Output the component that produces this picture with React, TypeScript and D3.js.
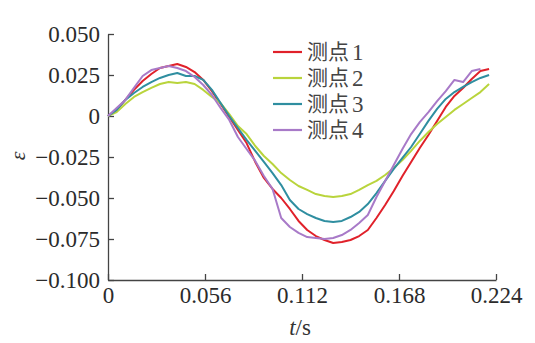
import React, { useEffect, useRef } from 'react'
import * as d3 from 'd3'

// time axis (s), one sample every 0.005 s
const time = d3.range(45).map(i => +(i * 0.005).toFixed(3))

const point1 = [0, 0.0037, 0.0098, 0.0159, 0.0213, 0.0256, 0.0293, 0.0305, 0.0317, 0.0299, 0.0268, 0.0220, 0.0152, 0.0073, -0.0006,
  -0.0085, -0.0165, -0.0280, -0.0378, -0.0445, -0.0500, -0.0567, -0.0640, -0.0695, -0.0732, -0.0756, -0.0774, -0.0768, -0.0756,
  -0.0732, -0.0695, -0.0622, -0.0543, -0.0457, -0.0366, -0.0280, -0.0195, -0.0116, -0.0030, 0.0055, 0.0122, 0.0171, 0.0226, 0.0274, 0.0287]
const point2 = [0, 0.0024, 0.0073, 0.0116, 0.0146, 0.0171, 0.0195, 0.0207, 0.0201, 0.0207, 0.0195, 0.0159, 0.0116, 0.0079, 0.0012,
  -0.0061, -0.0110, -0.0183, -0.0244, -0.0293, -0.0348, -0.0390, -0.0427, -0.0451, -0.0476, -0.0488, -0.0494, -0.0488, -0.0476,
  -0.0451, -0.0421, -0.0396, -0.0360, -0.0317, -0.0268, -0.0213, -0.0152, -0.0098, -0.0049, -0.0006, 0.0037, 0.0073, 0.0110, 0.0146, 0.0195]
const point3 = [0, 0.0037, 0.0098, 0.0140, 0.0177, 0.0207, 0.0232, 0.0250, 0.0262, 0.0244, 0.0244, 0.0220, 0.0159, 0.0079, 0,
  -0.0073, -0.0146, -0.0213, -0.0280, -0.0348, -0.0421, -0.0512, -0.0567, -0.0598, -0.0622, -0.0640, -0.0646, -0.0640, -0.0616,
  -0.0585, -0.0537, -0.0470, -0.0396, -0.0323, -0.0256, -0.0189, -0.0110, -0.0030, 0.0043, 0.0104, 0.0146, 0.0177, 0.0207, 0.0232, 0.0250]
const point4 = [0, 0.0049, 0.0098, 0.0171, 0.0244, 0.0280, 0.0293, 0.0305, 0.0293, 0.0274, 0.0238, 0.0189, 0.0128, 0.0049, -0.0024,
  -0.0128, -0.0201, -0.0274, -0.0366, -0.0445, -0.0622, -0.0677, -0.0713, -0.0738, -0.0744, -0.0750, -0.0744, -0.0726, -0.0695,
  -0.0652, -0.0604, -0.0494, -0.0396, -0.0299, -0.0201, -0.0110, -0.0037, 0.0024, 0.0091, 0.0152, 0.0220, 0.0207, 0.0274, 0.0287]

const seriesNames = ['测点', '测点', '测点', '测点']
const seriesNums = ['1', '2', '3', '4']
const seriesValues = [point1, point2, point3, point4]
const colors = ['#e0212a', '#b9d43c', '#2f8ea0', '#a87ac8']

const xTicks = [0, 0.056, 0.112, 0.168, 0.224]
const yTicks = [0.05, 0.025, 0, -0.025, -0.05, -0.075, -0.1]

const serif = 'Liberation Serif, Times New Roman, DejaVu Serif, serif'

export default function App() {
  const ref = useRef<SVGSVGElement>(null)

  useEffect(() => {
    const svg = d3.select(ref.current)
    svg.selectAll('*').remove()

    const x = d3.scaleLinear().domain([0, 0.224]).range([108, 496])
    const y = d3.scaleLinear().domain([-0.1, 0.05]).range([280, 34])
    const fmt = d3.format('.3f')
    const axisColor = '#444'

    // y axis, ticks pointing into the plot
    const gy = svg.append('g')
      .attr('transform', 'translate(108,0)')
      .call(d3.axisLeft(y).tickValues(yTicks).tickSizeInner(-6).tickSizeOuter(0).tickPadding(8)
        .tickFormat(d => (+d === 0 ? '0' : fmt(+d))))
    // x axis
    const gx = svg.append('g')
      .attr('transform', 'translate(0,280)')
      .call(d3.axisBottom(x).tickValues(xTicks).tickSizeInner(-6).tickSizeOuter(0).tickPadding(7)
        .tickFormat(d => (+d === 0 ? '0' : String(d))))

    for (const g of [gx, gy]) {
      g.attr('font-family', serif).attr('font-size', 23)
      g.select('.domain').attr('stroke', axisColor).attr('stroke-width', 1.3)
      g.selectAll('.tick line').attr('stroke', axisColor).attr('stroke-width', 1.3)
      g.selectAll('.tick text').attr('fill', '#2b2b2b')
    }

    const line = d3.line<number>()
      .x((_, i) => x(time[i]))
      .y(d => y(d))

    seriesValues.forEach((vals, i) => {
      svg.append('path')
        .datum(vals)
        .attr('d', line)
        .attr('fill', 'none')
        .attr('stroke', colors[i])
        .attr('stroke-width', 2)
        .attr('stroke-linejoin', 'round')
    })

    // legend
    const legend = svg.append('g')
    seriesNames.forEach((name, i) => {
      const ly = 52 + i * 26
      legend.append('line')
        .attr('x1', 273).attr('x2', 302)
        .attr('y1', ly).attr('y2', ly)
        .attr('stroke', colors[i])
        .attr('stroke-width', 2.2)
      legend.append('text')
        .attr('x', 307).attr('y', ly + 7)
        .attr('fill', '#444')
        .attr('font-family', 'Noto Sans CJK SC, sans-serif')
        .attr('font-size', 21)
        .text(name)
      legend.append('text')
        .attr('x', 352).attr('y', ly + 8)
        .attr('fill', '#444')
        .attr('font-family', serif)
        .attr('font-size', 23)
        .text(seriesNums[i])
    })

    // axis titles
    svg.append('text')
      .attr('transform', 'translate(25,156) rotate(-90)')
      .attr('text-anchor', 'middle')
      .attr('fill', '#333')
      .attr('font-family', serif)
      .attr('font-style', 'italic')
      .attr('font-size', 22)
      .text('ε')

    const xt = svg.append('text')
      .attr('x', 300).attr('y', 335)
      .attr('text-anchor', 'middle')
      .attr('fill', '#333')
      .attr('font-family', serif)
      .attr('font-size', 23)
    xt.append('tspan').attr('font-style', 'italic').text('t')
    xt.append('tspan').text('/s')
  }, [])

  return (
    <svg ref={ref} width={535} height={343}
      style={{ position: 'absolute', left: 0, top: 0, background: '#fff' }} />
  )
}
